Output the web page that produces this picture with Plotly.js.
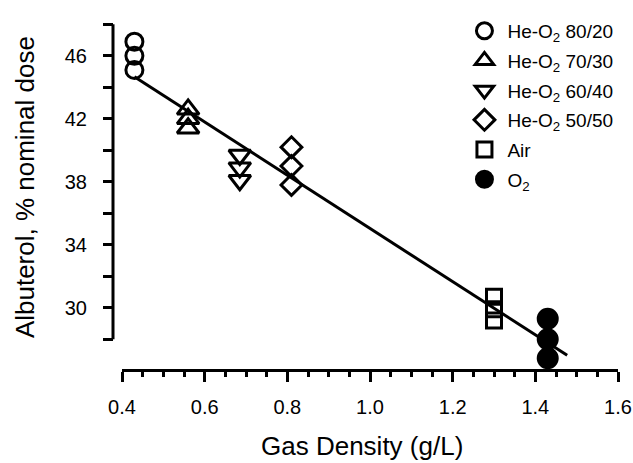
<!DOCTYPE html>
<html>
<head>
<meta charset="utf-8">
<script src="https://cdn.plot.ly/plotly-3.0.1.min.js"></script>
<style>html,body{margin:0;padding:0;background:#fff;}#chart{width:633px;height:463px;}</style>
</head>
<body>
<div id="chart"></div>
<script>
// Data
const seriesNames = ["He-O<sub>2</sub> 80/20", "He-O<sub>2</sub> 70/30", "He-O<sub>2</sub> 60/40", "He-O<sub>2</sub> 50/50", "Air", "O<sub>2</sub>"];
const densities = [0.43, 0.56, 0.685, 0.81, 1.30, 1.43];
const heo2_80_20 = [46.9, 46.0, 45.1];
const heo2_70_30 = [42.6, 42.0, 41.4];
const heo2_60_40 = [39.7, 38.9, 38.1];
const heo2_50_50 = [40.2, 39.0, 37.8];
const air = [30.7, 29.9, 29.2];
const o2 = [29.3, 28.0, 26.8];
const fitX = [0.43, 1.477];
const fitY = [44.67, 26.98];
const yTickVals = [30, 34, 38, 42, 46];

const allY = [heo2_80_20, heo2_70_30, heo2_60_40, heo2_50_50, air, o2];
const symbols = ["circle-open", "triangle-up-open", "triangle-down-open", "diamond-open", "square-open", "circle"];
const sizes = [17, 19, 19, 16, 15, 19];

const traces = [{
  x: fitX, y: fitY, mode: "lines", type: "scatter",
  line: {color: "#000", width: 3}, showlegend: false, hoverinfo: "skip"
}];
allY.forEach((ys, i) => {
  traces.push({
    x: ys.map(() => densities[i]), y: ys,
    type: "scatter", mode: "markers", name: seriesNames[i],
    legendgroup: "g" + i, cliponaxis: false,
    marker: {symbol: symbols[i], size: sizes[i], color: "#000",
             line: {color: "#000", width: 3}}
  });
});

const font = "Liberation Sans, Arial, Helvetica, sans-serif";
const layout = {
  width: 633, height: 463,
  margin: {l: 113, r: 15, t: 20, b: 93},
  paper_bgcolor: "#fff", plot_bgcolor: "#fff",
  font: {family: font, color: "#000"},
  showlegend: true,
  legend: {x: 0.69, y: 1.035, xanchor: "left", yanchor: "top",
           font: {size: 19, family: font, color: "#000"}, itemwidth: 36,
           traceorder: "grouped", tracegroupgap: 2, bgcolor: "rgba(0,0,0,0)"},
  xaxis: {
    domain: [9 / 505, 1], range: [0.4, 1.6], anchor: "free", position: 0,
    showline: true, linewidth: 3, linecolor: "#000",
    ticks: "outside", ticklen: 10, tickwidth: 3, tickcolor: "#000",
    tick0: 0.4, dtick: 0.2, tickformat: ".1f",
    ticklabelstandoff: 8,
    tickfont: {size: 20, family: font, color: "#000"},
    minor: {dtick: 0.05, ticks: "outside", ticklen: 5, tickwidth: 3, tickcolor: "#000", showgrid: false},
    showgrid: false, zeroline: false
  },
  yaxis: {
    domain: [0, 1], range: [26.05, 48.02], anchor: "free", position: 0,
    showline: false,
    ticks: "outside", ticklen: 10, tickwidth: 3, tickcolor: "#000",
    tickmode: "array", tickvals: yTickVals,
    ticklabelstandoff: 12,
    tickfont: {size: 20, family: font, color: "#000"},
    minor: {tick0: 28, dtick: 2, ticks: "outside", ticklen: 10, tickwidth: 3, tickcolor: "#000", showgrid: false},
    showgrid: false, zeroline: false
  },
  shapes: [{type: "line", xref: "paper", yref: "y", x0: 0, x1: 0, y0: 28, y1: 48,
            line: {color: "#000", width: 3}}],
  annotations: [
    {text: "Gas Density (g/L)", xref: "paper", yref: "paper",
     x: (362 - 113) / 505, y: (370 - 447) / 350, xanchor: "center", yanchor: "middle",
     showarrow: false, font: {size: 26, family: font, color: "#000"}},
    {text: "Albuterol, % nominal dose", xref: "paper", yref: "paper",
     x: (25 - 113) / 505, y: (370 - 185) / 350, xanchor: "center", yanchor: "middle",
     textangle: -90, showarrow: false, font: {size: 26, family: font, color: "#000"}}
  ]
};

Plotly.newPlot("chart", traces, layout, {displayModeBar: false, staticPlot: true});
</script>
</body>
</html>
